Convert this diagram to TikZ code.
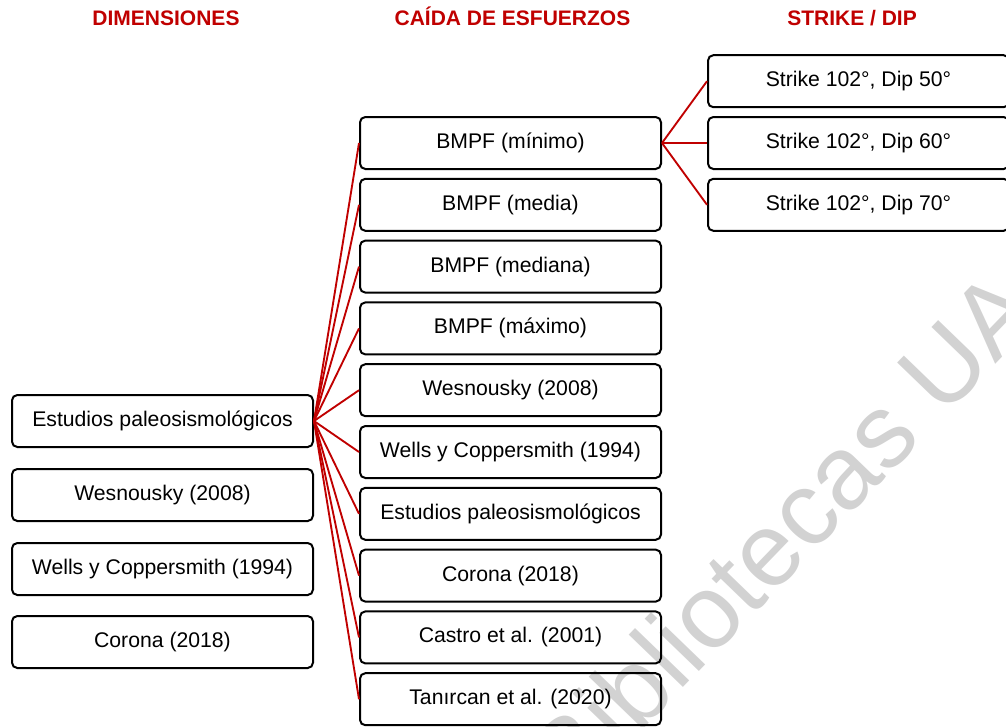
\documentclass[tikz,border=0pt]{standalone}
\usepackage{fontspec}
\setmainfont{Liberation Sans}
\definecolor{hdrred}{RGB}{192,0,0}
\definecolor{wmgray}{RGB}{210,210,210}
\begin{document}
\begin{tikzpicture}[x=0.75pt,y=-0.75pt,
  box/.style={draw=black, line width=1.5pt, rounded corners=4pt,
    minimum width=225.75pt, minimum height=39pt, inner sep=0pt,
    text height=11.6pt, text depth=3.4pt,
    font=\fontsize{15.9}{19}\selectfont},
  hdr/.style={text=hdrred, anchor=base, font=\fontsize{15.75}{18}\selectfont\bfseries},
  conn/.style={draw=hdrred, line width=1.4pt},
  wm/.style={text=wmgray, font=\fontsize{78}{78}\selectfont, rotate=46}]
\useasboundingbox (0,0) rectangle (1006,726);
% watermark
\node[wm] (wmk) at (782,532) {Bibliotecas UA};
% headers
\node[hdr] (h1) at (166,25.5) {DIMENSIONES};
\node[hdr] (h2) at (512.5,25.5) {CAÍDA DE ESFUERZOS};
\node[hdr] (h3) at (852,25.5) {STRIKE / DIP};
% left column
\node[box] (L1) at (162.5,421) {Estudios paleosismológicos};
\node[box] (L2) at (162.5,495) {Wesnousky (2008)};
\node[box] (L3) at (162.5,569) {Wells y Coppersmith (1994)};
\node[box] (L4) at (162.5,642) {Corona (2018)};
% middle column
\node[box] (M0) at (510.5,143.0) {BMPF (mínimo)};
\node[box] (M1) at (510.5,204.8) {BMPF (media)};
\node[box] (M2) at (510.5,266.6) {BMPF (mediana)};
\node[box] (M3) at (510.5,328.4) {BMPF (máximo)};
\node[box] (M4) at (510.5,390.2) {Wesnousky (2008)};
\node[box] (M5) at (510.5,452.0) {Wells y Coppersmith (1994)};
\node[box] (M6) at (510.5,513.8) {Estudios paleosismológicos};
\node[box] (M7) at (510.5,575.6) {Corona (2018)};
\node[box] (M8) at (510.5,637.4) {Castro et al. (2001)};
\node[box] (M9) at (510.5,699.2) {Tanırcan et al. (2020)};
% right column
\node[box] (R1) at (858.5,81.2) {Strike 102°, Dip 50°};
\node[box] (R2) at (858.5,143.0) {Strike 102°, Dip 60°};
\node[box] (R3) at (858.5,204.8) {Strike 102°, Dip 70°};
% connectors
\foreach \m in {M0,M1,M2,M3,M4,M5,M6,M7,M8,M9}
  \draw[conn] (L1.east) -- (\m.west);
\foreach \r in {R1,R2,R3}
  \draw[conn] (M0.east) -- (\r.west);
\end{tikzpicture}
\end{document}
